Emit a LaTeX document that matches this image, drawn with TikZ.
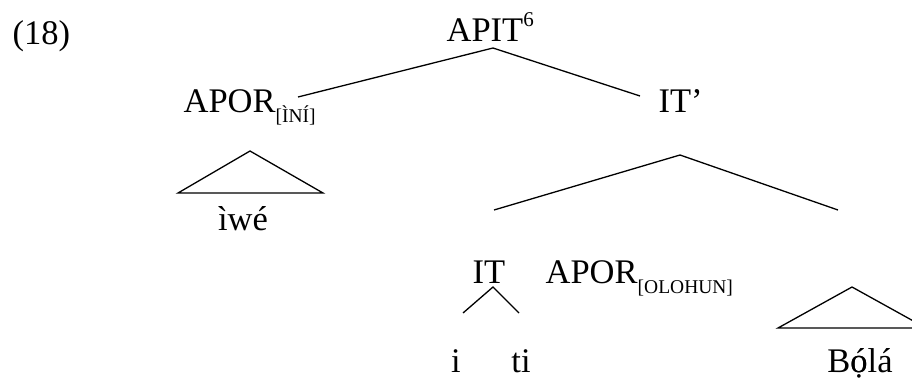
\documentclass[tikz,border=0pt]{standalone}
\usepackage{fontspec}
\setmainfont{Liberation Serif}
\usepackage{tikz}
\usetikzlibrary{positioning}
\newcommand{\lsub}[1]{\raisebox{-0.3em}{\fontsize{19.5}{23}\selectfont #1}}
\newcommand{\lsup}[1]{\raisebox{0.45em}{\fontsize{21}{24}\selectfont #1}}

\begin{document}
\begin{tikzpicture}[x=1pt,y=1pt,line width=1.3pt,
  lab/.style={inner sep=0pt,font=\fontsize{34.5}{41}\selectfont}]
\useasboundingbox (0,0) rectangle (912,381);
\node[lab,anchor=base west](num)at(12,336){(18)};
\node[lab,anchor=base west](apit)at(446,339){APIT\lsup{6}};
\node[lab,anchor=base west](apor1)at(183,269){APOR\lsub{[ÌNÍ]}};
\node[lab,anchor=base west](itp)at(658,269){IT’};
\node[lab,anchor=base](iwe)at(243,151){ìwé};
\node[lab,anchor=base](it)at(489,98){IT};
\node[lab,anchor=base west](apor2)at(545,98){APOR\lsub{[OLOHUN]}};
\node[lab,anchor=base](i)at(456,9){i};
\node[lab,anchor=base](ti)at(521,9){ti};
\node[lab,anchor=base](bola)at(860,9){B\ooalign{ó\cr ọ\cr}lá};
% branch points
\coordinate(R)at(493,333);\coordinate(RL)at(298,284);\coordinate(RR)at(640,285);
\coordinate(T1)at(250,230);\coordinate(T1L)at(178,188);\coordinate(T1R)at(323,188);
\coordinate(P)at(680,226);\coordinate(PL)at(494,171);\coordinate(PR)at(838,171);
\coordinate(Q)at(493,94);\coordinate(QL)at(463,68);\coordinate(QR)at(519,68);
\coordinate(T2)at(852,94);\coordinate(T2L)at(778,53);\coordinate(T2R)at(926,53);
\draw(RL)--(R)--(RR)(PL)--(P)--(PR)(QL)--(Q)--(QR);
\draw(T1)--(T1L)--(T1R)--cycle(T2)--(T2L)--(T2R)--cycle;
\end{tikzpicture}
\end{document}
